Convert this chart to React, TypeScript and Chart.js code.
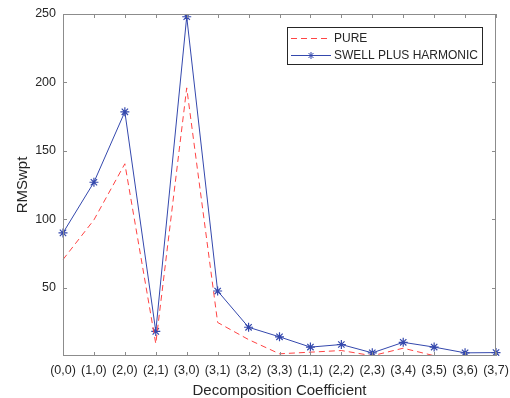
import React, { useEffect, useRef } from "react";
import { Chart, registerables } from "chart.js";

Chart.register(...registerables);

const categories = ["(0,0)", "(1,0)", "(2,0)", "(2,1)", "(3,0)", "(3,1)", "(3,2)", "(3,3)", "(1,1)", "(2,2)", "(2,3)", "(3,4)", "(3,5)", "(3,6)", "(3,7)"];
const pureValues = [70.5, 99.5, 140.5, 9, 196, 24.5, 12, 1.6, 2.8, 4, 0.2, 5.7, 0.2, 0.2, 0.2];
const swellValues = [90, 127, 178.5, 18, 248, 47.5, 21, 14, 6.5, 8.4, 2.3, 10, 6.5, 2.3, 2.5];
const yTicks = [0, 50, 100, 150, 200, 250];

const FONT = "'Liberation Sans', Arial, sans-serif";
const AXIS = "#8c8c8c";
const TEXT = "#262626";
const BLUE = "#3448ad";
const RED = "#ff4444";

const boxPlugin = {
  id: "matlabBox",
  afterDatasetsDraw(chart: any) {
    const { ctx, chartArea } = chart;
    const { left, right, top, bottom } = chartArea;
    const xs = chart.scales.x;
    const ys = chart.scales.y;
    ctx.save();
    ctx.strokeStyle = AXIS;
    ctx.lineWidth = 1;
    ctx.beginPath();
    ctx.rect(left + 0.5, top + 0.5, right - left - 1, bottom - top - 1);
    ctx.stroke();
    const tl = 4;
    ctx.beginPath();
    for (let i = 0; i < categories.length; i++) {
      const x = Math.round(xs.getPixelForValue(i)) + 0.5;
      ctx.moveTo(x, bottom);
      ctx.lineTo(x, bottom - tl);
      ctx.moveTo(x, top);
      ctx.lineTo(x, top + tl);
    }
    for (const v of yTicks) {
      if (v === 0) continue;
      const y = Math.round(ys.getPixelForValue(v)) + 0.5;
      ctx.moveTo(left, y);
      ctx.lineTo(left + tl, y);
      ctx.moveTo(right, y);
      ctx.lineTo(right - tl, y);
    }
    ctx.stroke();

    // legend
    const lx = 287, ly = 27, lw = 195, lh = 37;
    ctx.fillStyle = "#ffffff";
    ctx.fillRect(lx, ly, lw, lh);
    ctx.strokeStyle = "#262626";
    ctx.strokeRect(lx + 0.5, ly + 0.5, lw, lh);
    const y1 = 38.5, y2 = 55.5;
    ctx.strokeStyle = RED;
    ctx.setLineDash([6, 4]);
    ctx.beginPath();
    ctx.moveTo(291, y1);
    ctx.lineTo(331, y1);
    ctx.stroke();
    ctx.setLineDash([]);
    ctx.strokeStyle = BLUE;
    ctx.beginPath();
    ctx.moveTo(291, y2);
    ctx.lineTo(331, y2);
    ctx.stroke();
    // star marker
    const cx = 311, r = 3.5;
    ctx.beginPath();
    for (let k = 0; k < 4; k++) {
      const a = (k * Math.PI) / 4;
      ctx.moveTo(cx - r * Math.cos(a), y2 - r * Math.sin(a));
      ctx.lineTo(cx + r * Math.cos(a), y2 + r * Math.sin(a));
    }
    ctx.stroke();
    ctx.fillStyle = TEXT;
    ctx.font = `12px ${FONT}`;
    ctx.textBaseline = "middle";
    ctx.textAlign = "left";
    ctx.fillText("PURE", 334, y1);
    ctx.fillText("SWELL PLUS HARMONIC", 334, y2);
    ctx.restore();
  },
};

export default function App() {
  const ref = useRef<HTMLCanvasElement | null>(null);
  useEffect(() => {
    document.body.style.margin = "0";
    const canvas = ref.current!;
    const chart = new Chart(canvas, {
      type: "line",
      data: {
        labels: categories,
        datasets: [
          {
            label: "PURE",
            data: pureValues,
            borderColor: RED,
            borderWidth: 1,
            borderDash: [6, 4],
            pointRadius: 0,
            fill: false,
            tension: 0,
          },
          {
            label: "SWELL PLUS HARMONIC",
            data: swellValues,
            borderColor: BLUE,
            backgroundColor: BLUE,
            borderWidth: 1,
            pointStyle: "star",
            pointRadius: 4.5,
            pointBorderColor: BLUE,
            pointBorderWidth: 1.2,
            fill: false,
            tension: 0,
          },
        ],
      },
      options: {
        animation: false,
        responsive: false,
        layout: { padding: { top: 14, right: 14, left: 0, bottom: 0 } },
        plugins: { legend: { display: false }, tooltip: { enabled: false } },
        scales: {
          x: {
            type: "category",
            offset: false,
            grid: { display: false, drawTicks: false },
            border: { display: false },
            ticks: {
              color: TEXT,
              font: { family: FONT, size: 12.5 },
              padding: 7,
              maxRotation: 0,
              autoSkip: false,
            },
            title: {
              display: true,
              text: "Decomposition Coefficient",
              color: TEXT,
              font: { family: FONT, size: 15 },
              padding: { top: 0, bottom: -2 },
            },
            afterFit(scale: any) {
              scale.height = 42;
              scale.paddingLeft = 0;
              scale.paddingRight = 0;
            },
          },
          y: {
            min: 0,
            max: 250,
            grid: { display: false, drawTicks: false },
            border: { display: false },
            afterBuildTicks(scale: any) {
              scale.ticks = yTicks.map((v) => ({ value: v }));
            },
            ticks: {
              color: TEXT,
              font: { family: FONT, size: 12.5 },
              padding: 7,
              callback: (v: any) => (v === 0 ? "" : String(v)),
            },
            title: {
              display: true,
              text: "RMSwpt",
              color: TEXT,
              font: { family: FONT, size: 15 },
              padding: { top: 14, bottom: 0 },
            },
            afterFit(scale: any) {
              scale.width = 63;
              scale.paddingTop = 0;
              scale.paddingBottom = 0;
            },
          },
        },
      },
      plugins: [boxPlugin],
    });
    return () => chart.destroy();
  }, []);
  return (
    <div style={{ width: 510, height: 398 }}>
      <canvas ref={ref} width={510} height={398} style={{ display: "block" }} />
    </div>
  );
}
